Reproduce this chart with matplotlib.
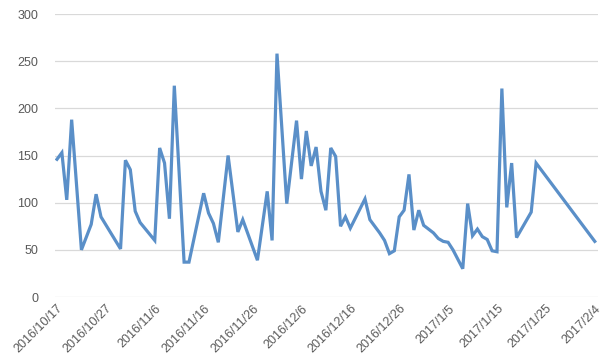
import matplotlib
matplotlib.use("Agg")
import matplotlib.pyplot as plt
import matplotlib.dates as mdates
import pandas as pd

dates = [
    "2016/10/17", "2016/10/18", "2016/10/19", "2016/10/20", "2016/10/22", "2016/10/24",
    "2016/10/25", "2016/10/26", "2016/10/30", "2016/10/31", "2016/11/1", "2016/11/2",
    "2016/11/3", "2016/11/6", "2016/11/7", "2016/11/8", "2016/11/9", "2016/11/10",
    "2016/11/12", "2016/11/13", "2016/11/16", "2016/11/17", "2016/11/18", "2016/11/19",
    "2016/11/21", "2016/11/23", "2016/11/24", "2016/11/27", "2016/11/29", "2016/11/30",
    "2016/12/1", "2016/12/3", "2016/12/5", "2016/12/6", "2016/12/7", "2016/12/8",
    "2016/12/9", "2016/12/10", "2016/12/11", "2016/12/12", "2016/12/13", "2016/12/14",
    "2016/12/15", "2016/12/16", "2016/12/19", "2016/12/20", "2016/12/21", "2016/12/22",
    "2016/12/23", "2016/12/24", "2016/12/25", "2016/12/26", "2016/12/27", "2016/12/28",
    "2016/12/29", "2016/12/30", "2016/12/31", "2017/1/2", "2017/1/3", "2017/1/4",
    "2017/1/5", "2017/1/6", "2017/1/7", "2017/1/8", "2017/1/9", "2017/1/10",
    "2017/1/11", "2017/1/12", "2017/1/13", "2017/1/14", "2017/1/15", "2017/1/16",
    "2017/1/17", "2017/1/18", "2017/1/19", "2017/1/22", "2017/1/23", "2017/2/4",
]
values = [
    146, 153, 103, 188, 50, 77,
    109, 85, 51, 145, 135, 91,
    79, 60, 158, 142, 83, 224,
    37, 37, 110, 89, 78, 58,
    150, 69, 82, 39, 112, 60,
    258, 99, 187, 125, 176, 139,
    159, 112, 92, 158, 149, 75,
    85, 73, 104, 82, 75, 68,
    60, 46, 49, 85, 92, 130,
    71, 92, 76, 68, 62, 59,
    58, 50, 40, 30, 99, 65,
    72, 64, 61, 49, 48, 221,
    95, 142, 63, 90, 142, 59,
]
tick_dates = [
    "2016/10/17", "2016/10/27", "2016/11/6", "2016/11/16", "2016/11/26", "2016/12/6",
    "2016/12/16", "2016/12/26", "2017/1/5", "2017/1/15", "2017/1/25", "2017/2/4",
]
y_ticks = [0, 50, 100, 150, 200, 250, 300]

plt.rcParams["font.family"] = ["Liberation Sans", "DejaVu Sans"]

x = pd.to_datetime(dates, format="%Y/%m/%d")
ticks = pd.to_datetime(tick_dates, format="%Y/%m/%d")

fig = plt.figure(figsize=(6.06, 3.64), dpi=100)
ax = fig.add_axes([0.0908, 0.184, 0.8955, 0.7775])

ax.plot(x, values, color="#5a8fc8", linewidth=2.3, solid_joinstyle="miter")

ax.set_ylim(0, 300)
ax.set_yticks(y_ticks)
start = mdates.date2num(ticks[0])
ax.set_xlim(start - 0.4, start + 110.6)
ax.set_xticks(ticks)
ax.set_xticklabels(tick_dates, rotation=45, ha="right", rotation_mode="anchor")

ax.grid(axis="y", color="#d9d9d9", linewidth=0.9)
ax.set_axisbelow(True)
for s in ax.spines.values():
    s.set_visible(False)
ax.tick_params(axis="both", length=0, colors="#595959", labelsize=9)
ax.tick_params(axis="y", pad=12)
ax.tick_params(axis="x", pad=4)

fig.savefig("out.png", dpi=100)
